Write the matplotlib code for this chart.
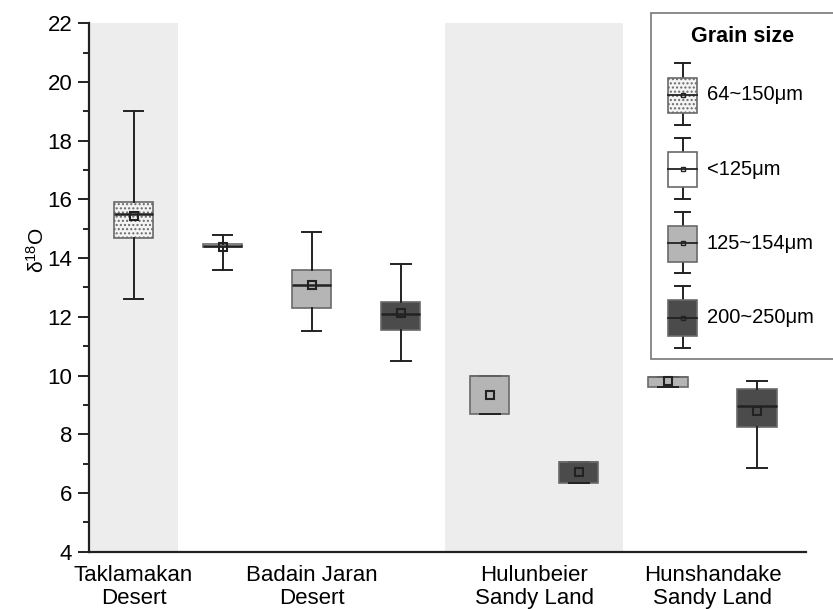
import matplotlib
matplotlib.use("Agg")
import matplotlib.pyplot as plt
from matplotlib.patches import Rectangle
import numpy as np

# ---------------- data ----------------
groups = ["Taklamakan\nDesert", "Badain Jaran\nDesert", "Hulunbeier\nSandy Land", "Hunshandake\nSandy Land"]
grain_sizes = ["64~150μm", "<125μm", "125~154μm", "200~250μm"]

box_group = [0, 1, 1, 1, 2, 2, 3, 3]
box_grain = [0, 1, 2, 3, 2, 3, 2, 3]
whislo = [12.6, 13.6, 11.5, 10.5, 8.7, 6.35, 9.6, 6.85]
q1     = [14.7, 14.37, 12.3, 11.55, 8.7, 6.35, 9.6, 8.25]
med    = [15.5, 14.42, 13.1, 12.1, 10.0, 7.05, 9.95, 8.95]
q3     = [15.9, 14.47, 13.6, 12.5, 10.0, 7.05, 9.95, 9.55]
whishi = [19.0, 14.8, 14.9, 13.8, 10.0, 7.05, 9.95, 9.8]
means  = [15.43, 14.37, 13.1, 12.12, 9.35, 6.72, 9.82, 8.8]

yticks = [4, 6, 8, 10, 12, 14, 16, 18, 20, 22]

# ---------------- style ----------------
plt.rcParams['font.family'] = ['Liberation Sans', 'DejaVu Sans']
plt.rcParams['mathtext.fontset'] = 'custom'
plt.rcParams['mathtext.rm'] = 'Liberation Sans'
plt.rcParams['mathtext.it'] = 'Liberation Sans:italic'
plt.rcParams['hatch.linewidth'] = 1.0

face_colors = ['#f4f4f4', '#ffffff', '#b5b5b5', '#4b4b4b']
hatches = ['....', None, None, None]
edge_c = '#6a6a6a'
line_c = '#222222'
band_c = '#ededed'

W, H = 833, 609
fig = plt.figure(figsize=(W / 100, H / 100), dpi=100)
ax = fig.add_axes([89 / W, (H - 551.6) / H, (806 - 89) / W, (551.6 - 23.3) / H])

positions = np.arange(1, len(whislo) + 1)
box_w = 0.44

# alternating shaded bands behind groups
for g in range(len(groups)):
    idx = [i for i, bg in enumerate(box_group) if bg == g]
    if g % 2 == 0:
        ax.axvspan(positions[idx[0]] - 0.5, positions[idx[-1]] + 0.5,
                   color=band_c, lw=0, zorder=0)

stats = []
for i in range(len(whislo)):
    stats.append(dict(whislo=whislo[i], q1=q1[i], med=med[i], q3=q3[i],
                      whishi=whishi[i], mean=means[i], fliers=[]))

bp = ax.bxp(stats, positions=positions, widths=box_w, patch_artist=True,
            showmeans=True, showfliers=False,
            boxprops=dict(edgecolor=edge_c, linewidth=1.2),
            whiskerprops=dict(color=line_c, linewidth=1.4),
            capprops=dict(color=line_c, linewidth=1.4),
            capwidths=box_w * 0.5,
            medianprops=dict(color=line_c, linewidth=1.8),
            meanprops=dict(marker='s', markerfacecolor='none',
                           markeredgecolor=line_c, markersize=5.5,
                           markeredgewidth=1.5))
for i, patch in enumerate(bp['boxes']):
    gidx = box_grain[i]
    patch.set_facecolor(face_colors[gidx])
    if hatches[gidx]:
        patch.set_hatch(hatches[gidx])
    patch.set_zorder(2)
# a median sitting on a box edge is not visible in the original
for i, mline in enumerate(bp['medians']):
    if med[i] in (q1[i], q3[i]):
        mline.set_color(edge_c)
        mline.set_linewidth(1.2)

ax.set_xlim(0.5, 8.55)
ax.set_ylim(4, 22)
ax.set_yticks(yticks)
ax.set_yticks(np.arange(5, 22, 2), minor=True)
ax.tick_params(axis='y', which='major', length=8, width=1.4, labelsize=16,
               direction='out', color=line_c, pad=4)
ax.tick_params(axis='y', which='minor', length=4.5, width=1.4, color=line_c)

centers = []
for g in range(len(groups)):
    idx = [i for i, bg in enumerate(box_group) if bg == g]
    centers.append(np.mean(positions[idx]))
ax.set_xticks(centers)
ax.set_xticklabels(groups, fontsize=16, linespacing=1.12)
ax.tick_params(axis='x', length=0, pad=10)

for s in ['top', 'right']:
    ax.spines[s].set_visible(False)
for s in ['left', 'bottom']:
    ax.spines[s].set_linewidth(1.6)
    ax.spines[s].set_color(line_c)

ax.set_ylabel('δ$^{18}$O', fontsize=15)
ax.yaxis.set_label_coords(-0.058, 0.57)

# ---------------- legend (drawn in pixel space) ----------------
lax = fig.add_axes([0, 0, 1, 1], zorder=5)
lax.set_xlim(0, W)
lax.set_ylim(H, 0)
lax.axis('off')
lax.add_patch(Rectangle((651, 13.3), 250, 345.7, facecolor='white',
                        edgecolor='#777777', lw=1.2))
lax.text(743, 36, 'Grain size', ha='center', va='center', fontsize=15.5,
         fontweight='bold')
cx, bw, cw = 682.8, 29, 15
for k, lab in enumerate(grain_sizes):
    cy = 95 + k * 74.2
    lax.plot([cx, cx], [cy - 31.7, cy + 30], color=line_c, lw=1.4, zorder=1)
    lax.plot([cx - cw / 2, cx + cw / 2], [cy - 31.7] * 2, color=line_c, lw=1.4)
    lax.plot([cx - cw / 2, cx + cw / 2], [cy + 30] * 2, color=line_c, lw=1.4)
    r = Rectangle((cx - bw / 2, cy - 17.3), bw, 35.6, facecolor=face_colors[k],
                  edgecolor=edge_c, lw=1.2, zorder=2)
    if hatches[k]:
        r.set_hatch(hatches[k])
    lax.add_patch(r)
    lax.plot([cx - bw / 2, cx + bw / 2], [cy, cy], color=line_c, lw=1.3, zorder=3)
    lax.plot([cx], [cy], marker='s', markersize=3, markerfacecolor='none',
             markeredgecolor=line_c, markeredgewidth=1.0, zorder=4)
    lax.text(706.7, cy, lab, ha='left', va='center', fontsize=14.5)

fig.savefig('out.png', dpi=100)
